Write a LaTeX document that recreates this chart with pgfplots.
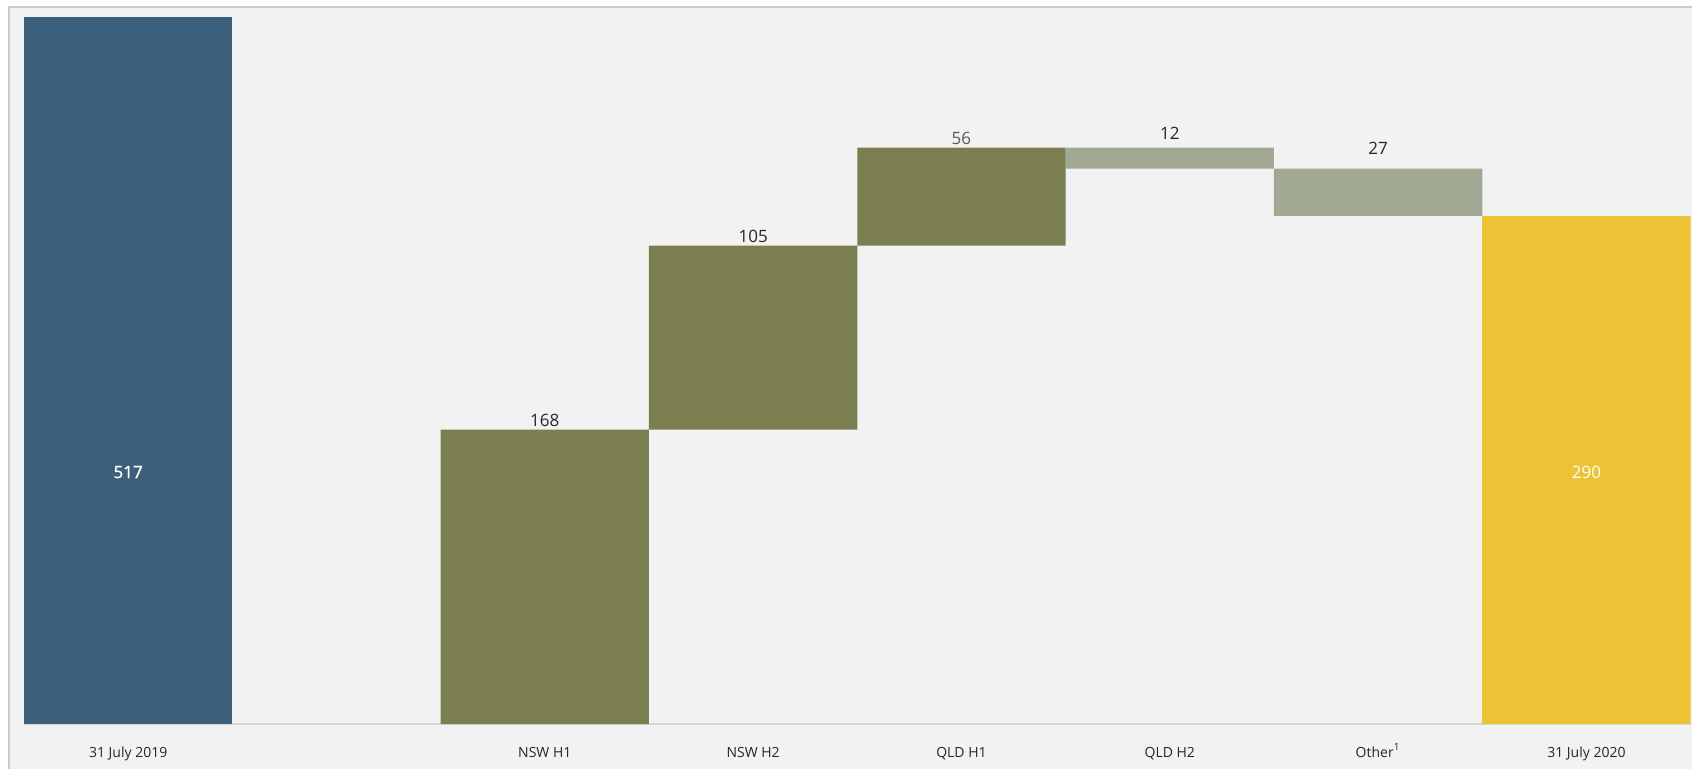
\documentclass[border=0pt]{standalone}
\usepackage{pgfplots}
\usepackage{pgfplotstable}
\pgfplotsset{compat=1.18}
\usepackage{fontspec}
\setmainfont{Open Sans}
\newfontfamily\semibold[FakeBold=1.2]{Open Sans}
\definecolor{bgc}{HTML}{F2F2F2}
\definecolor{framec}{HTML}{CCCCCC}
\definecolor{basec}{HTML}{D6D6D6}
\definecolor{bluec}{HTML}{3C5F7B}
\definecolor{olivec}{HTML}{7B7E50}
\definecolor{grayc}{HTML}{A1A995}
\definecolor{yellowc}{HTML}{EBC334}
\definecolor{textc}{HTML}{262626}
\definecolor{graytext}{HTML}{595959}

\pgfplotstableread{
x base blue olive gray yellow
0 0   517 0   0  0
1 0   0   0   0  0
2 0   0   168 0  0
3 168 0   105 0  0
4 273 0   56  0  0
5 317 0   0   12 0
6 290 0   0   27 0
7 0   0   0   0  290
}\wfdata

\begin{document}
\begin{tikzpicture}
\useasboundingbox (0,0) rectangle (846pt,384pt);
\clip (0,0) rectangle (846pt,384pt);
\fill[white] (0,0) rectangle (846pt,384pt);
\draw[draw=framec, line width=1pt, fill=bgc] (4.5pt,-10pt) rectangle (870pt,380.5pt);
\begin{axis}[
  at={(12pt,22pt)}, anchor=south west,
  scale only axis, width=833.3pt, height=353pt,
  xmin=-0.5, xmax=7.5, ymin=0, ymax=403,
  ybar stacked, bar width=1,
  axis x line*=bottom, axis y line=none,
  x axis line style={draw=basec, line width=0.8pt, -},
  xtick={0,...,7},
  xticklabels={31 July 2019,,NSW H1,NSW H2,QLD H1,QLD H2,Other\textsuperscript{1},31 July 2020},
  xtick style={draw=none}, major tick length=0pt,
  xticklabel style={font=\fontsize{7}{8}\selectfont, text=textc, anchor=base, yshift=-16.5pt},
  clip=true,
]
\addplot[draw=none, fill=none] table[x=x, y=base] {\wfdata};
\addplot[draw=none, fill=bluec] table[x=x, y=blue] {\wfdata};
\addplot[draw=none, fill=olivec] table[x=x, y=olive] {\wfdata};
\addplot[draw=none, fill=grayc] table[x=x, y=gray] {\wfdata};
\addplot[draw=none, fill=yellowc] table[x=x, y=yellow] {\wfdata};

\coordinate (L517) at (axis cs:0,143.8);
\coordinate (L290) at (axis cs:7,143.8);
\coordinate (L168) at (axis cs:2,173.5);
\coordinate (L105) at (axis cs:3,278.5);
\coordinate (L56) at (axis cs:4,334.5);
\coordinate (L12) at (axis cs:5,337.3);
\coordinate (L27) at (axis cs:6,328.8);
\end{axis}
\node[font=\semibold\fontsize{8.5}{10}\selectfont, text=white] at (L517) {517};
\node[font=\fontsize{8.5}{10}\selectfont, text=white] at (L290) {290};
\node[font=\fontsize{8.5}{10}\selectfont, text=textc] at (L168) {168};
\node[font=\fontsize{8.5}{10}\selectfont, text=textc] at (L105) {105};
\node[font=\fontsize{8.5}{10}\selectfont, text=graytext] at (L56) {56};
\node[font=\fontsize{8.5}{10}\selectfont, text=textc] at (L12) {12};
\node[font=\fontsize{8.5}{10}\selectfont, text=textc] at (L27) {27};
\end{tikzpicture}
\end{document}
